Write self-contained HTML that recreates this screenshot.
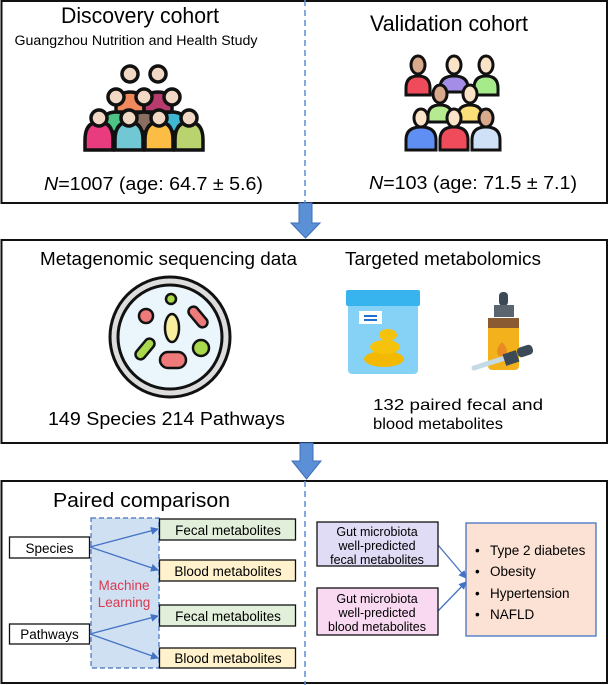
<!DOCTYPE html>
<html><head><meta charset="utf-8"><style>
html,body{margin:0;padding:0;background:#fff;}
svg{display:block;}
svg text{font-family:"Liberation Sans",Arial,Helvetica,sans-serif;}
</style></head><body>
<svg width="610" height="685" viewBox="0 0 610 685" xmlns="http://www.w3.org/2000/svg">
<defs>
<marker id="ah" markerWidth="8" markerHeight="8" refX="7" refY="4" orient="auto" markerUnits="userSpaceOnUse">
<path d="M0,0 L8,4 L0,8 z" fill="#4472c4"/></marker>
</defs>
<rect x="1.5" y="1" width="605.5" height="202" fill="#fff" stroke="#111" stroke-width="2"/>
<line x1="305" y1="0" x2="305" y2="203" stroke="#5b8fd6" stroke-width="1.5" stroke-dasharray="6,4"/>
<text x="140" y="23" font-size="22" text-anchor="middle" textLength="158" lengthAdjust="spacingAndGlyphs">Discovery cohort</text>
<text x="136" y="45" font-size="13.5" text-anchor="middle" textLength="243" lengthAdjust="spacingAndGlyphs">Guangzhou Nutrition and Health Study</text>
<text x="44" y="190" font-size="18.5" textLength="219" lengthAdjust="spacingAndGlyphs"><tspan font-style="italic">N</tspan>=1007 (age: 64.7 ± 5.6)</text>
<text x="449" y="31" font-size="22" text-anchor="middle" textLength="158" lengthAdjust="spacingAndGlyphs">Validation cohort</text>
<text x="369" y="189" font-size="18.5" textLength="208" lengthAdjust="spacingAndGlyphs"><tspan font-style="italic">N</tspan>=103 (age: 71.5 ± 7.1)</text>

<g stroke="#111" stroke-width="3.5">
<path d="M116,112 v-6 q0,-14 14,-14 q14,0 14,14 v6 z" fill="#f08a5d"/>
<path d="M144,112 v-6 q0,-14 14,-14 q14,0 14,14 v6 z" fill="#b83b6e"/>
<path d="M102,132 v-6 q0,-14 14,-14 q14,0 14,14 v6 z" fill="#4dc486"/>
<path d="M130,132 v-6 q0,-14 14,-14 q14,0 14,14 v6 z" fill="#8a6e62"/>
<path d="M158,132 v-6 q0,-14 14,-14 q14,0 14,14 v6 z" fill="#3fb8d4"/>
<path d="M85,150 v-10 q0,-18 14,-18 q14,0 14,18 v10 z" fill="#e83c7e"/>
<path d="M115,150 v-10 q0,-18 14,-18 q14,0 14,18 v10 z" fill="#71c8d4"/>
<path d="M145,150 v-10 q0,-18 14,-18 q14,0 14,18 v10 z" fill="#fbbd44"/>
<path d="M175,150 v-10 q0,-18 14,-18 q14,0 14,18 v10 z" fill="#b9d36e"/>
<circle cx="130" cy="74" r="8" fill="#f0d8c4"/><circle cx="158" cy="74" r="8" fill="#f0d8c4"/>
<circle cx="116" cy="97" r="8" fill="#f0d8c4"/><circle cx="144" cy="97" r="8" fill="#f0d8c4"/><circle cx="172" cy="97" r="8" fill="#f0d8c4"/>
<circle cx="99" cy="118" r="8" fill="#f0d8c4"/><circle cx="129" cy="118" r="8" fill="#f0d8c4"/><circle cx="159" cy="118" r="8" fill="#f0d8c4"/><circle cx="189" cy="118" r="8" fill="#f0d8c4"/>
</g>
<g stroke="#111" stroke-width="3">
<path d="M406,95 v-7 q0,-12 12,-12 q12,0 12,12 v7 z" fill="#ef4b5a"/>
<path d="M440,92 v-4 q0,-12 14,-12 q14,0 14,12 v4 z" fill="#a48de6"/>
<path d="M474,95 v-7 q0,-12 12,-12 q12,0 12,12 v7 z" fill="#a6ea8a"/>
<path d="M428,122 v-6 q0,-11 12,-11 q12,0 12,11 v6 z" fill="#b5ea90"/>
<path d="M458,122 v-6 q0,-11 12,-11 q12,0 12,11 v6 z" fill="#fbe07a"/>
<path d="M406,150 v-10 q0,-13 15,-13 q15,0 15,13 v10 z" fill="#5f8ff2"/>
<path d="M440,150 v-10 q0,-13 14,-13 q14,0 14,13 v10 z" fill="#ef4b5a"/>
<path d="M472,150 v-10 q0,-13 14,-13 q14,0 14,13 v10 z" fill="#cfe1f7"/>
<ellipse cx="418" cy="65" rx="7" ry="9" fill="#d9a98c"/><ellipse cx="454" cy="65" rx="7" ry="9" fill="#fbe3c8"/><ellipse cx="486" cy="65" rx="7" ry="9" fill="#fbe3c8"/>
<ellipse cx="440" cy="94" rx="7" ry="9" fill="#d9a98c"/><ellipse cx="470" cy="94" rx="7" ry="9" fill="#fbe3c8"/>
<ellipse cx="421" cy="118" rx="7" ry="9" fill="#fbe3c8"/><ellipse cx="454" cy="118" rx="7" ry="9" fill="#fbe3c8"/><ellipse cx="486" cy="118" rx="7" ry="9" fill="#d9a98c"/>
</g>

<path d="M299,203 h13 v20 h8 l-14.5,15 l-14.5,-15 h8 z" fill="#5b8fd6" stroke="#3d6fb8" stroke-width="1"/>

<rect x="1.5" y="240" width="605.5" height="203" fill="#fff" stroke="#111" stroke-width="2"/>
<text x="40" y="265" font-size="18.5" textLength="257" lengthAdjust="spacingAndGlyphs">Metagenomic sequencing data</text>
<text x="345" y="265" font-size="18.5" textLength="196" lengthAdjust="spacingAndGlyphs">Targeted metabolomics</text>
<text x="48" y="425" font-size="18.5" textLength="237" lengthAdjust="spacingAndGlyphs">149 Species  214 Pathways</text>
<text x="373" y="410" font-size="16" textLength="170" lengthAdjust="spacingAndGlyphs">132 paired fecal and</text>
<text x="373" y="429" font-size="16" textLength="130" lengthAdjust="spacingAndGlyphs">blood metabolites</text>
<circle cx="170" cy="337" r="60" fill="#ddd" stroke="#111" stroke-width="3"/>
<circle cx="170" cy="337" r="52" fill="#eaf6fb" stroke="#111" stroke-width="3"/>
<g stroke="#111" stroke-width="2.5">
<circle cx="146" cy="316" r="7" fill="#ef7a7a"/>
<circle cx="171" cy="299" r="5" fill="#a9d84c"/>
<ellipse cx="172" cy="328" rx="7" ry="14" fill="#f8ee9e"/>
<rect x="193" y="305" width="10" height="24" rx="5" fill="#ef7a7a" transform="rotate(-40 198 317)"/>
<rect x="140" y="337" width="10" height="24" rx="5" fill="#a9d84c" transform="rotate(40 145 349)"/>
<circle cx="201" cy="348" r="8" fill="#a9d84c"/>
<rect x="160" y="352" width="26" height="16" rx="8" fill="#ef7a7a"/>
</g>
<rect x="348" y="302" width="70" height="72" rx="4" fill="#85d2f6"/>
<rect x="346" y="290" width="74" height="16" rx="2" fill="#37b4ee"/>
<rect x="359" y="311" width="23" height="13" fill="#fff"/>
<rect x="364" y="315" width="13" height="2" fill="#1e6fd0"/><rect x="364" y="319" width="13" height="2" fill="#1e6fd0"/>
<ellipse cx="384" cy="359" rx="20" ry="8" fill="#f2b900"/>
<ellipse cx="385" cy="347" rx="15" ry="7" fill="#f6c30c"/>
<ellipse cx="388" cy="335" rx="9" ry="6" fill="#f6c30c"/>
<rect x="499" y="292" width="9" height="14" rx="4" fill="#3c4a57"/>
<rect x="494" y="305" width="20" height="12" fill="#5a6570"/>
<rect x="488" y="318" width="31" height="52" rx="4" fill="#f3b21b"/>
<rect x="488" y="318" width="31" height="10" fill="#8a5a33"/>
<path d="M498,355 q-3,-6 4,-13 q7,7 4,13 q-4,4 -8,0z" fill="#ea8a25"/>
<line x1="474" y1="368" x2="505" y2="358" stroke="#c4dbe6" stroke-width="5" stroke-linecap="round"/>
<rect x="504" y="352" width="14" height="12" fill="#3c4a57" transform="rotate(-18 511 358)"/>
<rect x="517" y="346" width="16" height="10" rx="4" fill="#3c4a57" transform="rotate(-18 525 351)"/>

<path d="M300,443 h13 v18 h8 l-14.5,18 l-14.5,-18 h8 z" fill="#5b8fd6" stroke="#3d6fb8" stroke-width="1"/>

<rect x="1.5" y="481" width="605.5" height="202" fill="#fff" stroke="#111" stroke-width="2"/>
<line x1="305" y1="481" x2="305" y2="685" stroke="#5b8fd6" stroke-width="1.5" stroke-dasharray="6,4"/>
<text x="53" y="507" font-size="20.5" textLength="177" lengthAdjust="spacingAndGlyphs">Paired comparison</text>
<rect x="91" y="518" width="68" height="150" fill="#cfe0f3" stroke="#4472c4" stroke-width="1.2" stroke-dasharray="5,3"/>
<text x="124" y="590" font-size="13.5" fill="#d9384f" text-anchor="middle">Machine</text>
<text x="124" y="607" font-size="13.5" fill="#d9384f" text-anchor="middle">Learning</text>
<rect x="9.5" y="537" width="80" height="21" fill="#fff" stroke="#111" stroke-width="1.3"/>
<text x="49.5" y="553" font-size="13.5" text-anchor="middle">Species</text>
<rect x="9.5" y="624" width="80" height="20" fill="#fff" stroke="#111" stroke-width="1.3"/>
<text x="49.5" y="639" font-size="13.5" text-anchor="middle">Pathways</text>
<rect x="159.5" y="519" width="136" height="21" fill="#e2efda" stroke="#111" stroke-width="1.3"/>
<text x="228" y="535" font-size="13.5" text-anchor="middle">Fecal metabolites</text>
<rect x="159.5" y="560" width="136" height="21" fill="#fff2cc" stroke="#111" stroke-width="1.3"/>
<text x="228" y="576" font-size="13.5" text-anchor="middle">Blood metabolites</text>
<rect x="159.5" y="605" width="136" height="21" fill="#e2efda" stroke="#111" stroke-width="1.3"/>
<text x="228" y="621" font-size="13.5" text-anchor="middle">Fecal metabolites</text>
<rect x="159.5" y="648" width="136" height="20" fill="#fff2cc" stroke="#111" stroke-width="1.3"/>
<text x="228" y="663" font-size="13.5" text-anchor="middle">Blood metabolites</text>
<g stroke="#4472c4" stroke-width="1.3" marker-end="url(#ah)">
<line x1="90" y1="547" x2="158" y2="529"/>
<line x1="90" y1="547" x2="158" y2="570"/>
<line x1="90" y1="634" x2="158" y2="616"/>
<line x1="90" y1="634" x2="158" y2="658"/>
<line x1="438" y1="545" x2="466" y2="578"/>
<line x1="438" y1="611" x2="466" y2="582"/>
</g>
<rect x="317" y="522" width="121" height="44" fill="#e0dcf5" stroke="#111" stroke-width="1.3"/>
<text x="377" y="536" font-size="12.5" text-anchor="middle">Gut microbiota</text>
<text x="377" y="550" font-size="12.5" text-anchor="middle">well-predicted</text>
<text x="377" y="564" font-size="12.5" text-anchor="middle">fecal metabolites</text>
<rect x="317" y="588" width="121" height="47" fill="#f9d9f1" stroke="#111" stroke-width="1.3"/>
<text x="377" y="603" font-size="12.5" text-anchor="middle">Gut microbiota</text>
<text x="377" y="617" font-size="12.5" text-anchor="middle">well-predicted</text>
<text x="377" y="631" font-size="12.5" text-anchor="middle">blood metabolites</text>
<rect x="466" y="523" width="130" height="113" fill="#fbe2d4" stroke="#4472c4" stroke-width="1.3"/>
<g font-size="13.5">
<text x="475" y="555">•</text><text x="490" y="555">Type 2 diabetes</text>
<text x="475" y="576">•</text><text x="490" y="576">Obesity</text>
<text x="475" y="598">•</text><text x="490" y="598">Hypertension</text>
<text x="475" y="619">•</text><text x="490" y="619">NAFLD</text>
</g>
</svg>
</body></html>
